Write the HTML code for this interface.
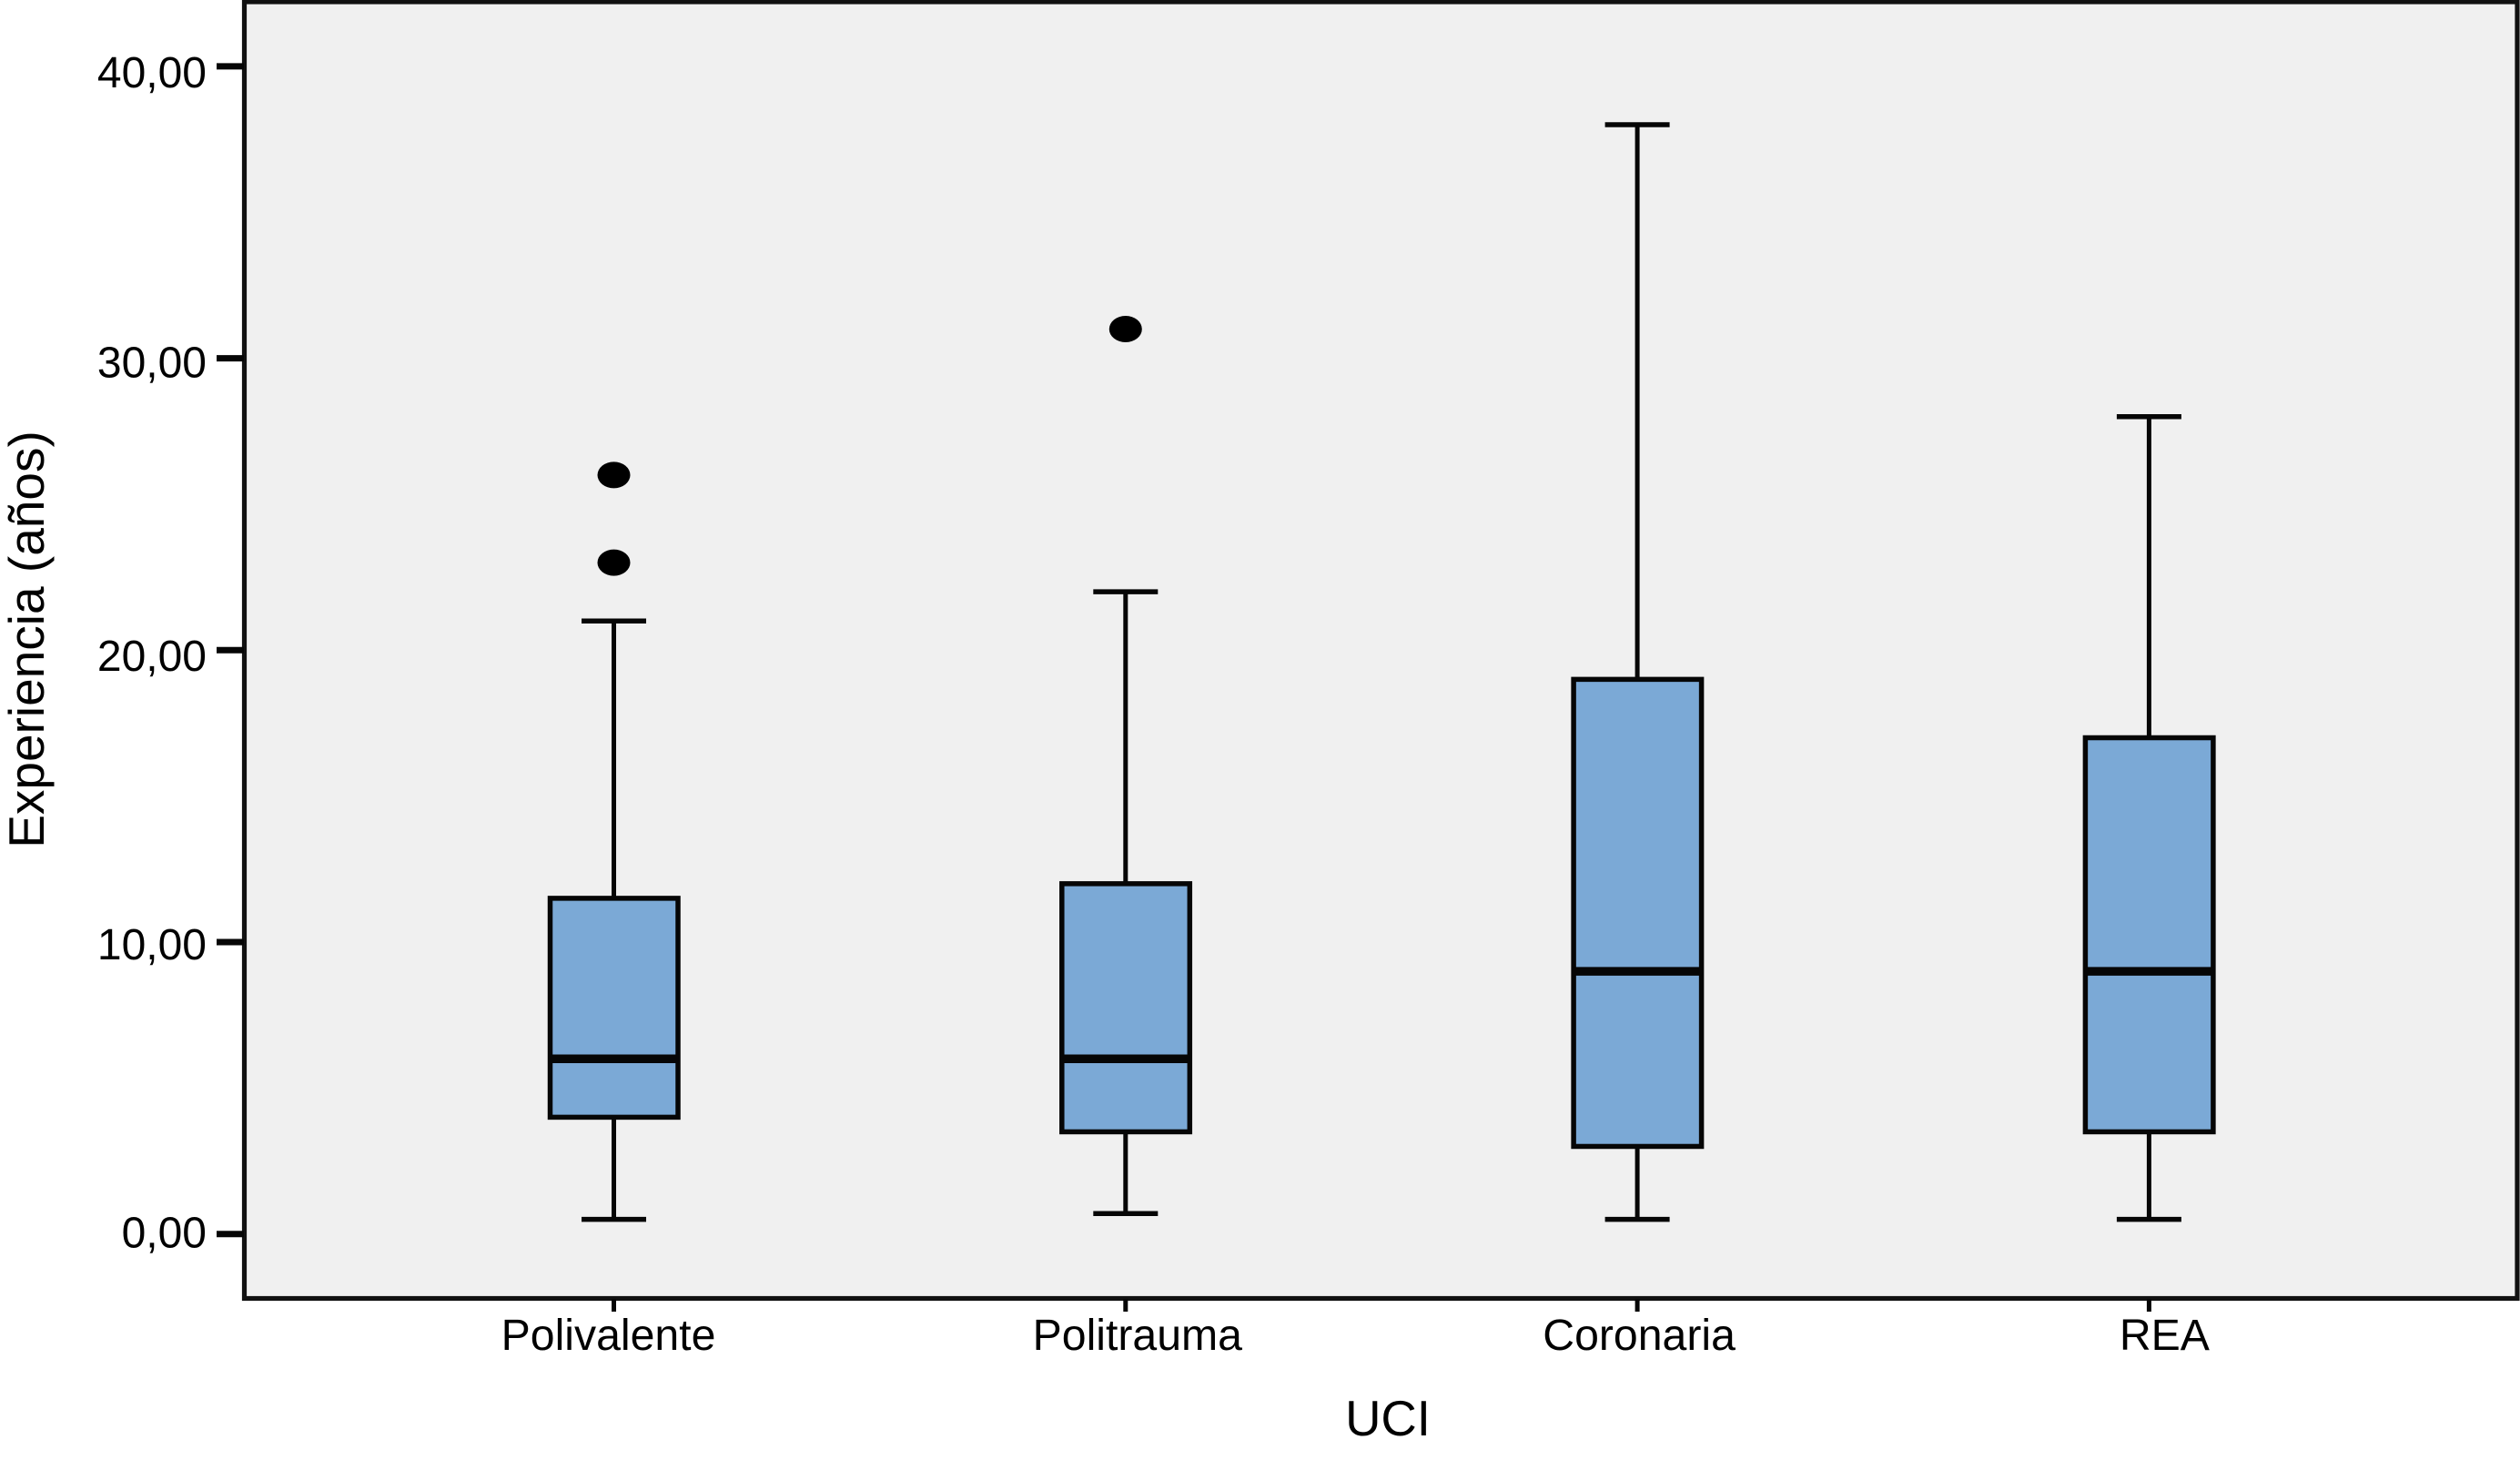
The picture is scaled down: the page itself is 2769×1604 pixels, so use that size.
<!DOCTYPE html>
<html lang="es">
<head>
<meta charset="utf-8">
<title>Experiencia por UCI</title>
<style>
html,body{margin:0;padding:0;background:#fff;}
body{width:2769px;height:1604px;overflow:hidden;}
svg{display:block;font-family:"Liberation Sans",Arial,sans-serif;fill:#000;}
</style>
</head>
<body>
<svg id="chart" xmlns="http://www.w3.org/2000/svg" width="2769" height="1604" viewBox="0 0 2769 1604">
  <rect x="0" y="0" width="2769" height="1604" fill="#ffffff"/>
  <rect x="268.5" y="2" width="2497.5" height="1424.5" fill="#f0f0f0" stroke="#111111" stroke-width="5.2"/>
  <g id="axes"></g>
  <g id="marks"></g>
  <text transform="translate(48,702.5) rotate(-90)" text-anchor="middle" font-size="55">Experiencia (años)</text>
  <text x="1525" y="1577" text-anchor="middle" font-size="54.5">UCI</text>
</svg>
<script>
const categories = ["Polivalente", "Politrauma", "Coronaria", "REA"];
const whiskerLow = [0.5, 0.7, 0.5, 0.5];
const quartile1 = [4, 3.5, 3, 3.5];
const medians = [6, 6, 9, 9];
const quartile3 = [11.5, 12, 19, 17];
const whiskerHigh = [21, 22, 38, 28];
const outliers = [[23, 26], [31], [], []];
const yTickValues = [0, 10, 20, 30, 40];
const yTickLabels = ["0,00", "10,00", "20,00", "30,00", "40,00"];

const SVG_NS = "http://www.w3.org/2000/svg";
const axes = document.getElementById("axes");
const marks = document.getElementById("marks");

function yScale(v) { return 1355.7 - v * 32.07; }
function xScale(i) { return 674.5 + i * 562.3; }

function line(parent, x1, y1, x2, y2, w) {
  const el = document.createElementNS(SVG_NS, "line");
  el.setAttribute("x1", x1);
  el.setAttribute("y1", y1);
  el.setAttribute("x2", x2);
  el.setAttribute("y2", y2);
  el.setAttribute("stroke", "#060606");
  el.setAttribute("stroke-width", w);
  parent.appendChild(el);
  return el;
}

const yLabelNudge = [15, 19, 22.5, 20.7, 23];
yTickValues.forEach(function (v, i) {
  const y = yScale(v);
  const tick = line(axes, 238, y, 268, y, 7);
  
  
  const t = document.createElementNS(SVG_NS, "text");
  t.setAttribute("x", 227);
  t.setAttribute("y", y + yLabelNudge[i]);
  t.setAttribute("text-anchor", "end");
  t.setAttribute("font-size", "48");
  t.textContent = yTickLabels[i];
  
  
  axes.appendChild(t);
});

const xLabelOffsets = [-6, 13, 2, 17];
categories.forEach(function (c, i) {
  const x = xScale(i);
  const tick = line(axes, x, 1427, x, 1441, 5);
  
  
  const t = document.createElementNS(SVG_NS, "text");
  t.setAttribute("x", x + xLabelOffsets[i]);
  t.setAttribute("y", 1483);
  t.setAttribute("text-anchor", "middle");
  t.setAttribute("font-size", "48.2");
  t.textContent = c;
  
  
  axes.appendChild(t);

  const g = document.createElementNS(SVG_NS, "g");
  
  
  marks.appendChild(g);

  const stem = line(g, x, yScale(whiskerLow[i]), x, yScale(whiskerHigh[i]), 5);
  
  
  const capLow = line(g, x - 35.5, yScale(whiskerLow[i]), x + 35.5, yScale(whiskerLow[i]), 5.5);
  
  
  const capHigh = line(g, x - 35.5, yScale(whiskerHigh[i]), x + 35.5, yScale(whiskerHigh[i]), 5.5);
  
  

  const box = document.createElementNS(SVG_NS, "rect");
  box.setAttribute("x", x - 70);
  box.setAttribute("y", yScale(quartile3[i]));
  box.setAttribute("width", 140.5);
  box.setAttribute("height", yScale(quartile1[i]) - yScale(quartile3[i]));
  box.setAttribute("fill", "#7ba9d6");
  box.setAttribute("stroke", "#060606");
  box.setAttribute("stroke-width", 5.5);
  
  
  g.appendChild(box);

  const med = line(g, x - 70, yScale(medians[i]), x + 70.5, yScale(medians[i]), 9.5);
  
  

  outliers[i].forEach(function (v) {
    const dot = document.createElementNS(SVG_NS, "ellipse");
    dot.setAttribute("cx", x);
    dot.setAttribute("cy", yScale(v));
    dot.setAttribute("rx", 18);
    dot.setAttribute("ry", 14.5);
    dot.setAttribute("fill", "#000000");
    
    
    g.appendChild(dot);
  });
});
</script>
</body>
</html>
